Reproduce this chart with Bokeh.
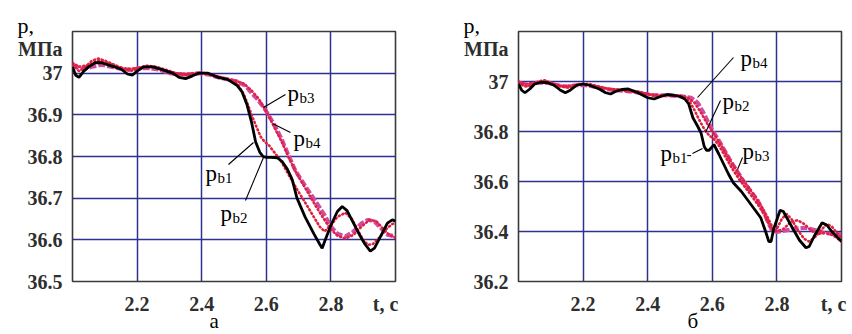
from bokeh.plotting import figure
from bokeh.models import Range1d, FixedTicker, Label, CustomJSTickFormatter, Title
from bokeh.layouts import row
from bokeh.embed import file_html
from bokeh.resources import INLINE

# ---------------- data: panel "а" ----------------
a_t1 = [2.00, 2.01, 2.02, 2.035, 2.05, 2.07, 2.09, 2.11, 2.13, 2.15, 2.17, 2.185, 2.20, 2.22, 2.25,
        2.28, 2.31, 2.33, 2.35, 2.37, 2.39, 2.42, 2.45, 2.48, 2.51, 2.525, 2.54, 2.555, 2.567, 2.58,
        2.59, 2.60, 2.615, 2.634, 2.65, 2.665, 2.68, 2.695, 2.72, 2.747, 2.765, 2.773, 2.78, 2.80,
        2.82, 2.835, 2.85, 2.87, 2.89, 2.905, 2.922, 2.935, 2.955, 2.975, 2.99, 3.00]
a_p1 = [37.015, 36.995, 36.99, 37.005, 37.015, 37.025, 37.025, 37.02, 37.015, 37.01, 36.998, 36.995,
        37.005, 37.015, 37.015, 37.008, 37.0, 36.99, 36.987, 36.993, 37.0, 37.0, 36.99, 36.985,
        36.97, 36.955, 36.925, 36.88, 36.835, 36.81, 36.80, 36.798, 36.798, 36.797, 36.787, 36.77,
        36.745, 36.70, 36.655, 36.615, 36.59, 36.58, 36.595, 36.635, 36.668, 36.68, 36.67, 36.64,
        36.61, 36.59, 36.573, 36.58, 36.61, 36.64, 36.648, 36.645]

a_t2 = [2.00, 2.02, 2.04, 2.06, 2.08, 2.10, 2.13, 2.16, 2.18, 2.20, 2.23, 2.26, 2.29, 2.32, 2.35,
        2.38, 2.41, 2.44, 2.48, 2.51, 2.53, 2.545, 2.557, 2.57, 2.583, 2.595, 2.607, 2.625, 2.645,
        2.67, 2.696, 2.72, 2.747, 2.765, 2.78, 2.80, 2.82, 2.845, 2.865, 2.885, 2.90, 2.915, 2.93,
        2.95, 2.97, 2.99, 3.00]
a_p2 = [37.02, 37.005, 37.015, 37.03, 37.035, 37.03, 37.02, 37.01, 37.005, 37.012, 37.018, 37.015,
        37.008, 37.0, 36.995, 36.998, 37.0, 36.995, 36.985, 36.975, 36.95, 36.92, 36.895, 36.87,
        36.847, 36.835, 36.828, 36.81, 36.79, 36.755, 36.72, 36.69, 36.655, 36.632, 36.62, 36.635,
        36.655, 36.665, 36.65, 36.62, 36.60, 36.588, 36.59, 36.605, 36.625, 36.638, 36.64]

a_t3 = [2.00, 2.03, 2.06, 2.09, 2.12, 2.15, 2.18, 2.21, 2.24, 2.27, 2.30, 2.33, 2.36, 2.39, 2.42,
        2.45, 2.48, 2.51, 2.535, 2.555, 2.575, 2.597, 2.622, 2.645, 2.665, 2.69, 2.72, 2.746, 2.765,
        2.78, 2.80, 2.82, 2.845, 2.87, 2.895, 2.915, 2.935, 2.955, 2.975, 2.99, 3.00]
a_p3 = [37.02, 37.01, 37.015, 37.02, 37.015, 37.01, 37.008, 37.012, 37.012, 37.008, 37.0, 36.997,
        36.997, 37.0, 36.997, 36.99, 36.985, 36.98, 36.97, 36.952, 36.935, 36.912, 36.88, 36.846,
        36.81, 36.766, 36.73, 36.70, 36.678, 36.66, 36.632, 36.615, 36.608, 36.62, 36.64, 36.648,
        36.644, 36.628, 36.612, 36.61, 36.613]

a_t4 = [2.00, 2.02, 2.05, 2.08, 2.11, 2.14, 2.17, 2.20, 2.23, 2.26, 2.29, 2.32, 2.35, 2.38, 2.41,
        2.44, 2.47, 2.50, 2.53, 2.555, 2.575, 2.595, 2.612, 2.628, 2.648, 2.668, 2.69, 2.71, 2.73,
        2.75, 2.77, 2.787, 2.80, 2.82, 2.845, 2.87, 2.895, 2.92, 2.94, 2.96, 2.98, 3.00]
a_p4 = [37.025, 37.015, 37.02, 37.03, 37.025, 37.015, 37.01, 37.012, 37.015, 37.012, 37.005, 37.0,
        36.998, 37.0, 37.0, 36.993, 36.988, 36.983, 36.975, 36.958, 36.94, 36.915, 36.89, 36.865,
        36.835, 36.80, 36.765, 36.738, 36.712, 36.685, 36.66, 36.64, 36.625, 36.61, 36.603, 36.612,
        36.632, 36.648, 36.645, 36.628, 36.612, 36.605]

# ---------------- data: panel "б" ----------------
b_t1 = [2.00, 2.01, 2.02, 2.035, 2.05, 2.07, 2.09, 2.11, 2.13, 2.145, 2.16, 2.18, 2.20, 2.22, 2.25,
        2.27, 2.285, 2.30, 2.32, 2.34, 2.37, 2.40, 2.42, 2.44, 2.46, 2.48, 2.50, 2.515, 2.527, 2.54,
        2.555, 2.565, 2.575, 2.582, 2.59, 2.597, 2.605, 2.62, 2.635, 2.65, 2.665, 2.69, 2.71, 2.73,
        2.75, 2.765, 2.775, 2.782, 2.79, 2.81, 2.82, 2.835, 2.85, 2.87, 2.89, 2.90, 2.915, 2.94,
        2.955, 2.97, 2.985, 3.00]
b_p1 = [36.99, 36.965, 36.955, 36.97, 36.99, 36.997, 36.995, 36.985, 36.965, 36.955, 36.965, 36.985,
        36.99, 36.985, 36.97, 36.955, 36.95, 36.96, 36.968, 36.97, 36.955, 36.935, 36.93, 36.94,
        36.948, 36.945, 36.94, 36.93, 36.91, 36.855, 36.82, 36.795, 36.74, 36.725, 36.725, 36.735,
        36.748, 36.71, 36.67, 36.63, 36.595, 36.56, 36.525, 36.49, 36.455, 36.40, 36.36, 36.36,
        36.41, 36.485, 36.48, 36.445, 36.41, 36.365, 36.335, 36.34, 36.38, 36.435, 36.425, 36.40,
        36.38, 36.36]

b_t2 = [2.00, 2.02, 2.04, 2.06, 2.08, 2.10, 2.13, 2.16, 2.19, 2.22, 2.25, 2.28, 2.31, 2.34, 2.37,
        2.40, 2.43, 2.46, 2.49, 2.515, 2.53, 2.545, 2.56, 2.575, 2.59, 2.605, 2.62, 2.64, 2.66, 2.68,
        2.70, 2.72, 2.74, 2.76, 2.775, 2.79, 2.80, 2.815, 2.83, 2.845, 2.865, 2.885, 2.90, 2.92, 2.94,
        2.955, 2.97, 2.985, 3.00]
b_p2 = [36.995, 36.98, 36.985, 37.0, 37.005, 36.995, 36.98, 36.975, 36.99, 36.99, 36.98, 36.97,
        36.968, 36.965, 36.96, 36.95, 36.94, 36.945, 36.945, 36.94, 36.92, 36.885, 36.845, 36.81,
        36.785, 36.77, 36.745, 36.70, 36.655, 36.615, 36.58, 36.545, 36.51, 36.47, 36.43, 36.40,
        36.41, 36.45, 36.47, 36.45, 36.405, 36.37, 36.36, 36.38, 36.41, 36.43, 36.42, 36.395, 36.375]

b_t3 = [2.00, 2.03, 2.06, 2.09, 2.12, 2.15, 2.18, 2.21, 2.24, 2.27, 2.30, 2.33, 2.36, 2.39, 2.42,
        2.45, 2.48, 2.51, 2.535, 2.555, 2.575, 2.59, 2.605, 2.62, 2.64, 2.66, 2.68, 2.70, 2.72, 2.74,
        2.76, 2.775, 2.785, 2.80, 2.83, 2.86, 2.89, 2.92, 2.95, 2.975, 3.00]
b_p3 = [36.995, 36.985, 36.995, 36.995, 36.985, 36.98, 36.985, 36.985, 36.978, 36.97, 36.965, 36.962,
        36.958, 36.95, 36.945, 36.945, 36.943, 36.94, 36.935, 36.915, 36.87, 36.83, 36.795, 36.765,
        36.72, 36.675, 36.635, 36.595, 36.56, 36.525, 36.475, 36.43, 36.405, 36.398, 36.405, 36.412,
        36.415, 36.405, 36.393, 36.39, 36.39]

b_t4 = [2.00, 2.02, 2.05, 2.08, 2.11, 2.14, 2.17, 2.20, 2.23, 2.26, 2.29, 2.32, 2.35, 2.38, 2.41,
        2.44, 2.47, 2.50, 2.525, 2.545, 2.565, 2.58, 2.595, 2.61, 2.63, 2.65, 2.67, 2.69, 2.71, 2.73,
        2.75, 2.77, 2.785, 2.80, 2.82, 2.845, 2.865, 2.885, 2.905, 2.925, 2.945, 2.965, 2.985, 3.00]
b_p4 = [37.0, 36.99, 36.995, 37.0, 36.99, 36.98, 36.985, 36.99, 36.982, 36.975, 36.968, 36.965,
        36.96, 36.955, 36.948, 36.945, 36.945, 36.942, 36.935, 36.915, 36.875, 36.84, 36.81, 36.78,
        36.74, 36.695, 36.655, 36.615, 36.58, 36.545, 36.505, 36.46, 36.42, 36.40, 36.41, 36.44,
        36.445, 36.43, 36.405, 36.39, 36.395, 36.39, 36.375, 36.36]

x_ticks = [2.2, 2.4, 2.6, 2.8]
a_y_ticks = [36.5, 36.6, 36.7, 36.8, 36.9, 37.0]
b_y_ticks = [36.2, 36.4, 36.6, 36.8, 37.0]

SERIF = "Liberation Serif"
GRID = "#2f3190"
FRAME_W, FRAME_H = 323, 250
FRAME_TOP = 31
FIG_H = 334


def make_panel(width, fig_left, frame_left, yr, y_ticks, curves, unit_x, texts, leaders, letter):
    left_border = frame_left - fig_left
    p = figure(width=width, height=FIG_H, x_range=Range1d(2.0, 3.0), y_range=Range1d(*yr),
               output_backend="svg", toolbar_location=None,
               min_border_left=left_border, min_border_right=width - left_border - FRAME_W,
               min_border_top=FRAME_TOP, min_border_bottom=FIG_H - FRAME_TOP - FRAME_H)
    p.background_fill_color = "white"
    p.border_fill_color = "white"
    p.outline_line_color = "#3a3a3a"
    p.outline_line_width = 1.6

    y0, y1 = yr

    def dx(px):
        return 2.0 + (px - frame_left) / FRAME_W * 1.0

    def dy(py):
        return y1 - (py - FRAME_TOP) / FRAME_H * (y1 - y0)

    # unit labels carried by the axes themselves
    tx = dx(unit_x)
    ty = dy(48)
    code = ("if (Math.abs(tick - special) < 1e-9) return lab;"
            "return (Math.round(tick*10)/10).toString();")
    x_fmt = CustomJSTickFormatter(args=dict(special=tx, lab="t, c"), code=code)
    y_fmt = CustomJSTickFormatter(args=dict(special=ty, lab="МПа"), code=code)

    for ax, ticks, fmt in ((p.xaxis[0], x_ticks + [tx], x_fmt), (p.yaxis[0], y_ticks + [ty], y_fmt)):
        ax.ticker = FixedTicker(ticks=ticks)
        ax.formatter = fmt
        ax.axis_line_color = None
        ax.major_tick_line_color = None
        ax.minor_tick_line_color = None
        ax.major_label_text_font = SERIF
        ax.major_label_text_font_style = "bold"
        ax.major_label_text_font_size = "20px"
        ax.major_label_text_color = "#2e2e2e"
    p.xaxis.major_label_standoff = 5
    p.yaxis.major_label_standoff = 4
    p.xgrid.ticker = FixedTicker(ticks=x_ticks)
    p.ygrid.ticker = FixedTicker(ticks=y_ticks)
    for g in (p.xgrid[0], p.ygrid[0]):
        g.grid_line_color = GRID
        g.grid_line_width = 1.5
        g.grid_line_alpha = 1.0

    styles = [
        dict(line_color="black", line_width=2.8),
        dict(line_color="#e0203c", line_width=2.6, line_dash="1 3", line_cap="round"),
        dict(line_color="#d24c9e", line_width=4.0, line_dash="7 2"),
        dict(line_color="#e02048", line_width=2.6, line_dash="1 3", line_cap="round"),
    ]
    for i in [2, 3, 1, 0]:
        t, v = curves[i]
        p.line(t, v, **styles[i])

    for (xa, ya, xb, yb) in leaders:
        p.segment(x0=[dx(xa)], y0=[dy(ya)], x1=[dx(xb)], y1=[dy(yb)], line_color="black", line_width=1.1)

    for (txt, px, py, size) in texts:
        p.add_layout(Label(x=dx(px), y=dy(py), text=txt, text_font=SERIF, text_font_size=size,
                           text_color="black", text_baseline="alphabetic", text_align="left"))

    # "p," above the frame, left of it
    p.add_layout(Title(text="p,", align="left", offset=-55, standoff=-13,
                       text_font=SERIF, text_font_style="normal", text_font_size="22px",
                       text_color="black", vertical_align="bottom"), "above")
    # panel letter under the axis
    p.add_layout(Title(text=letter[0], align="left", offset=letter[1] - frame_left, standoff=-18,
                       text_font=SERIF, text_font_style="normal", text_font_size="21px",
                       text_color="black", vertical_align="top"), "below")
    return p


def sub_label(name, px, py):
    return [("p", px, py, "23px"), (name, px + 12, py + 4, "15px")]


a_texts = (sub_label("b3", 287, 93) + sub_label("b4", 293, 138)
           + sub_label("b1", 205, 173) + sub_label("b2", 220, 213))
a_leaders = [(263, 107, 285, 94), (272, 123, 290, 132), (228, 164, 253, 142), (245, 200, 263, 157)]

b_texts = (sub_label("b4", 740, 58) + sub_label("b2", 722, 101)
           + sub_label("b1", 660, 153) + [("-", 686, 153, "15px")] + sub_label("b3", 742, 151))
b_leaders = [(733, 57, 697, 97), (720, 100, 705, 132), (692, 153, 702, 148), (742, 157, 737, 169)]

p1 = make_panel(420, 0, 72, (36.5, 37.1), a_y_ticks,
                [(a_t1, a_p1), (a_t2, a_p2), (a_t3, a_p3), (a_t4, a_p4)],
                385, a_texts, a_leaders, ("а", 209))
p2 = make_panel(432, 420, 518, (36.2, 37.2), b_y_ticks,
                [(b_t1, b_p1), (b_t2, b_p2), (b_t3, b_p3), (b_t4, b_p4)],
                833, b_texts, b_leaders, ("б", 687))

layout = row(p1, p2)
open("out.html", "w").write(file_html(layout, INLINE))
